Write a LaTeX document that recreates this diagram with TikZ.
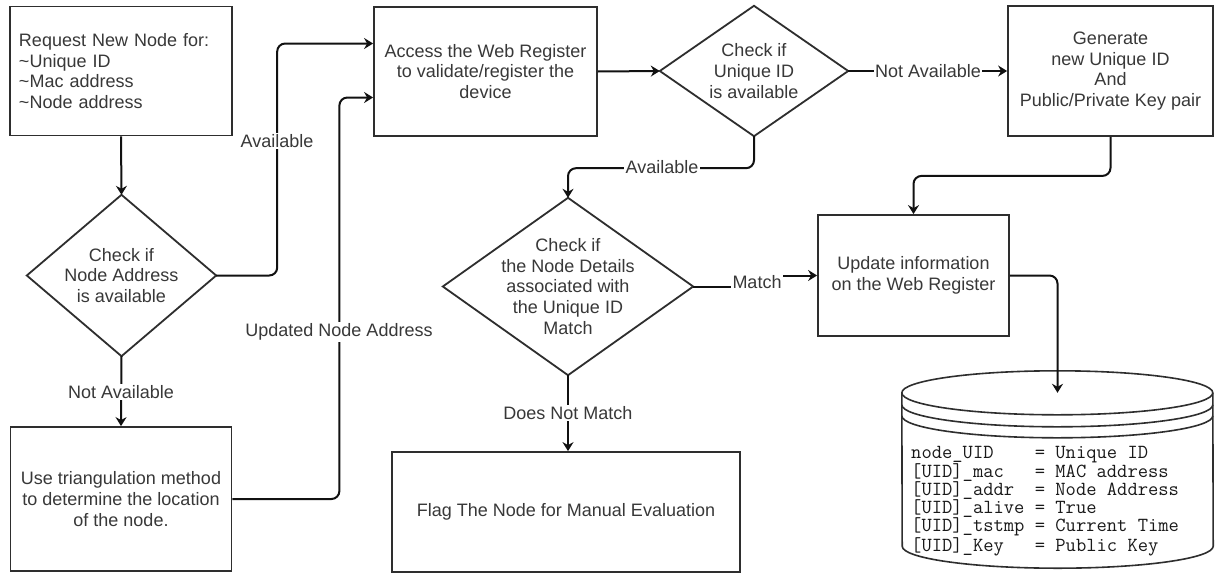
\documentclass[tikz,border=0pt]{standalone}
\usepackage{fontspec}
\setmainfont{Liberation Sans}
\usetikzlibrary{arrows.meta,calc}
\definecolor{txt}{HTML}{383838}
\definecolor{boxc}{HTML}{2E2E2E}
\definecolor{linec}{HTML}{111111}
\newcommand\mainfs{\fontsize{18}{20.6}\selectfont}
\tikzset{
  box/.style={draw=boxc, line width=1.8pt, rectangle, align=center, text=txt, font=\mainfs, inner sep=0pt},
  dec/.style={rectangle, align=center, text=txt, font=\mainfs, inner sep=0pt},
  decline/.style={draw=boxc, line width=1.8pt, line join=miter},
  conn/.style={draw=linec, line width=2pt, rounded corners=8pt},
  arr/.style={conn, -{Stealth[length=9pt,width=11pt,inset=3pt]}},
  lab/.style={fill=white, text=txt, font=\mainfs, inner sep=1.5pt},
}
\begin{document}
\begin{tikzpicture}[x=1pt,y=-1pt]
\useasboundingbox[fill=white] (0,0) rectangle (1215,573);

% process boxes
\node[box, minimum width=222pt, minimum height=129pt, text width=204pt, align=left] (b1) at (121,71)
  {Request New Node for:\\\textasciitilde Unique ID\\\textasciitilde Mac address\\\textasciitilde Node address};
\node[box, minimum width=223pt, minimum height=129pt] (b2) at (485.5,71.5)
  {Access the Web Register\\to validate/register the\\device};
\node[box, minimum width=205pt, minimum height=130pt] (b4) at (1110.5,71)
  {Generate\\new Unique ID\\And\\Public/Private Key pair};
\node[box, minimum width=221pt, minimum height=144pt] (b3) at (121,499)
  {Use triangulation method\\to determine the location\\of the node.};
\node[box, minimum width=191pt, minimum height=121pt] (b5) at (913.5,275.5)
  {Update information\\on the Web Register};
\node[box, minimum width=348pt, minimum height=120pt] (b6) at (566,512)
  {Flag The Node for Manual Evaluation};

% decisions
\node[dec, minimum width=189pt, minimum height=161pt] (d1) at (121.5,275.5)
  {Check if\\Node Address\\is available};
\node[dec, minimum width=188pt, minimum height=130pt] (d2) at (754,71)
  {Check if\\Unique ID\\is available};
\node[dec, minimum width=250pt, minimum height=177pt] (d3) at (568,286.5)
  {Check if\\the Node Details\\associated with\\the Unique ID\\Match};
\foreach \n in {d1,d2,d3}
  \draw[decline] (\n.north) -- (\n.east) -- (\n.south) -- (\n.west) -- cycle;

% datastore
\node[rectangle, minimum width=311pt, minimum height=197pt, inner sep=0pt] (db) at (1057.5,469.5) {};
\draw[decline, line width=1.6pt]
  ([yshift=-22pt]db.north west) arc[start angle=180, end angle=0, x radius=155.5pt, y radius=22pt]
  -- ([yshift=22pt]db.south east) arc[start angle=0, end angle=-180, x radius=155.5pt, y radius=22pt]
  -- cycle;
\foreach \dy in {22,34,45}
  \draw[decline, line width=1.6pt] ([yshift=-\dy pt]db.north west)
    arc[start angle=180, end angle=360, x radius=155.5pt, y radius=22pt];
\coordinate (dbin) at ([yshift=-22pt]db.north);
\node[anchor=west, align=left, inner sep=0pt, text=black!90,
      font=\ttfamily\fontsize{20}{18}\selectfont] (dbt) at (911,501)
  {node\_UID~~~~= Unique ID\\
   {[}UID{]}\_mac~~~= MAC address\\
   {[}UID{]}\_addr~~= Node Address\\
   {[}UID{]}\_alive = True\\
   {[}UID{]}\_tstmp = Current Time\\
   {[}UID{]}\_Key~~~= Public Key};

% connection points on b2
\coordinate (b2in1) at ([yshift=28pt]b2.west);
\coordinate (b2in2) at ([yshift=-26pt]b2.west);

% Match label (splits its line)
\node[lab] (lm) at (757,282) {Match};

% connectors
\draw[arr] (b1.south) -- (d1.north);
\draw[arr] (d1.east) -- ++(61,0) |- (b2in1);
\draw[arr] (d1.south) -- (b3.north);
\draw[arr] (b3.east) -- ++(107,0) |- (b2in2);
\draw[arr] (b2.east) -- (d2.west);
\draw[arr] (d2.east) -- (b4.west);
\draw[arr] (d2.south) -- ++(0,32) -| (d3.north);
\draw[arr] (b4.south) -- ++(0,39) -| (b5.north);
\draw[conn] (d3.east) -- (d3.east -| lm.west);
\draw[arr] (lm.east |- b5.west) -- (b5.west);
\draw[arr] (b5.east) -| (dbin);
\draw[arr] (d3.south) -- (d3.south |- b6.north);

% labels
\node[lab] (l1) at (277,141) {Available};
\node[lab] (l2) at (339,332) {Updated Node Address};
\node[lab] (l3) at (121,392) {Not Available};
\node[lab] (l4) at (662,167) {Available};
\node[lab] (l5) at (928,71) {Not Available};
\node[lab] (l6) at (568,413) {Does Not Match};
\end{tikzpicture}
\end{document}
